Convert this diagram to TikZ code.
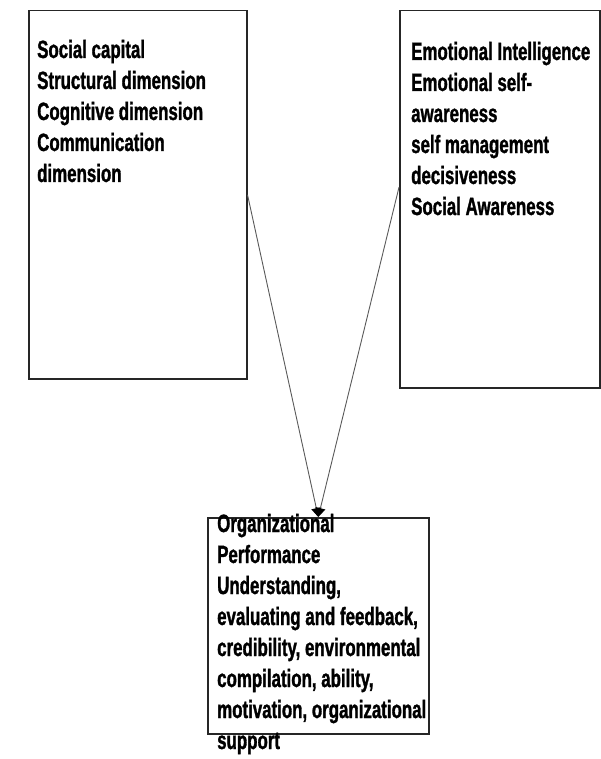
\documentclass[tikz,border=0pt]{standalone}
\usepackage{fontspec}
\setmainfont{Liberation Sans}[FakeStretch=0.675, BoldFeatures={FakeBold=1.2}]
\usetikzlibrary{arrows.meta}
\begin{document}
\begin{tikzpicture}[x=1pt,y=-1pt,
  frame/.style={draw=black!85, line width=1.5pt, inner sep=0pt, anchor=north west},
  label/.style={anchor=base west, inner sep=0pt, align=left,
    font=\bfseries\fontsize{25}{31}\selectfont, text=black},
  link/.style={draw=black!65, line width=0.9pt, -{Triangle[length=9pt,width=10pt,color=black,fill=black]}}]
  \useasboundingbox (0,0) rectangle (600,759);

  % boxes
  \node[frame, minimum width=218pt, minimum height=368pt] (sc) at (28,10) {};
  \node[frame, minimum width=200pt, minimum height=377pt] (ei) at (399,10) {};
  \node[frame, minimum width=221pt, minimum height=216pt] (op) at (207,517) {};

  % box texts (anchored at the baseline of their last line)
  \node[label] (sctext) at (37,182) {Social capital\\Structural dimension\\Cognitive dimension\\Communication\\dimension};
  \node[label] (eitext) at (411,215) {Emotional Intelligence\\Emotional self-\\awareness\\self management\\decisiveness\\Social Awareness};
  \node[label] (optext) at (217,749) {Organizational\\Performance\\Understanding,\\evaluating and feedback,\\credibility, environmental\\compilation, ability,\\motivation, organizational\\support};

  % connectors
  \draw[link] (sc.east) -- (op.north);
  \draw[link] ([yshift=12pt]ei.west) -- (op.north);
\end{tikzpicture}
\end{document}
